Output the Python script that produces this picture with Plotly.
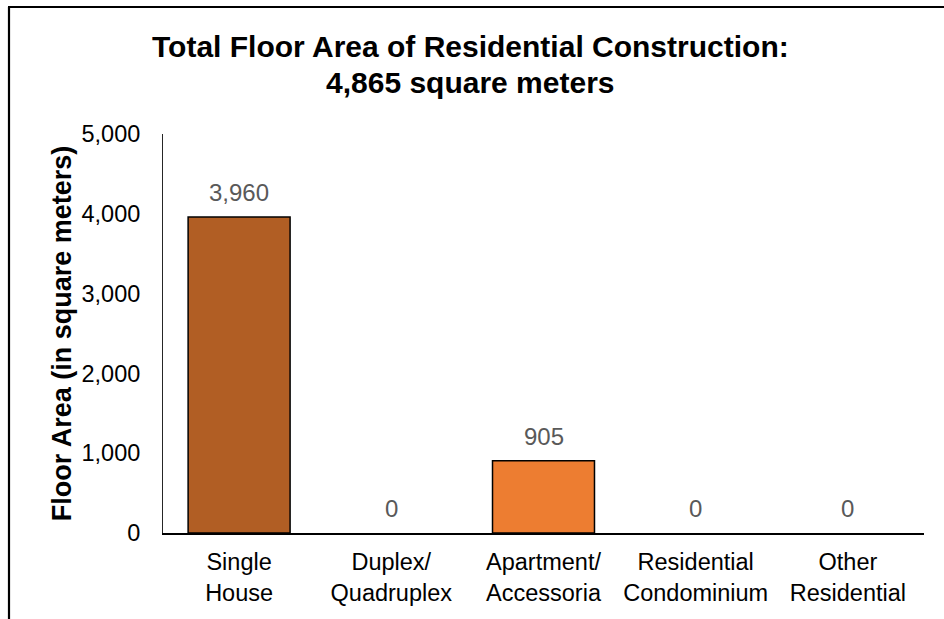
import plotly.graph_objects as go

categories = ["Single<br>House", "Duplex/<br>Quadruplex", "Apartment/<br>Accessoria",
              "Residential<br>Condominium", "Other<br>Residential"]
values = [3960, 0, 905, 0, 0]
bar_colors = ["#B15E24", "#ED7D31", "#ED7D31", "#ED7D31", "#ED7D31"]
title_lines = ["Total Floor Area of Residential Construction:", "4,865 square meters"]
y_title = "Floor Area (in square meters)"
y_ticks = [0, 1000, 2000, 3000, 4000, 5000]

FONT = "Liberation Sans, Arial, sans-serif"

W, H = 944, 619
L, R, T, B = 163, 20, 134, 86
pw, ph = W - L - R, H - T - B


def px(xp):
    return (xp - L) / pw


def py(yp):
    return (H - B - yp) / ph


fig = go.Figure()
fig.add_trace(go.Bar(
    x=categories, y=values,
    marker=dict(color=bar_colors,
                line=dict(color="#000000", width=[1.5 if v > 0 else 0 for v in values])),
    width=0.67,
    hoverinfo="skip",
))

annotations = []
for c, v in zip(categories, values):
    annotations.append(dict(
        x=c, y=v, xref="x", yref="y", text=f"{v:,}", showarrow=False,
        yanchor="bottom", yshift=9,
        font=dict(family=FONT, size=24, color="#595959"),
    ))

for line, yc in zip(title_lines, [46, 83]):
    annotations.append(dict(
        x=px(470), y=py(yc), xref="paper", yref="paper",
        text="<b>" + line + "</b>", showarrow=False,
        xanchor="center", yanchor="middle",
        font=dict(family=FONT, size=30, color="#000000"),
    ))

shapes = [
    dict(type="line", xref="paper", yref="paper", x0=px(9), x1=px(9), y0=py(H + 5), y1=py(7),
         line=dict(color="#000000", width=2.2)),
    dict(type="line", xref="paper", yref="paper", x0=px(8), x1=px(W + 5), y0=py(7), y1=py(7),
         line=dict(color="#000000", width=2.2)),
]

fig.update_layout(
    width=W, height=H,
    margin=dict(l=L, r=R, t=T, b=B, autoexpand=False),
    paper_bgcolor="#FFFFFF", plot_bgcolor="#FFFFFF",
    showlegend=False,
    bargap=0.33,
    font=dict(family=FONT, color="#000000"),
    xaxis=dict(
        showline=True, linecolor="#000000", linewidth=2,
        ticks="", showgrid=False, zeroline=False,
        tickfont=dict(family=FONT, size=23.5, color="#000000"),
        ticklabelstandoff=7,
        automargin=False,
    ),
    yaxis=dict(
        range=[0, 5000], tickvals=y_ticks, ticktext=[f"{t:,}" for t in y_ticks],
        showline=True, linecolor="#262626", linewidth=1,
        ticks="", showgrid=False, zeroline=False,
        tickfont=dict(family=FONT, size=23.5, color="#000000"),
        ticklabelstandoff=17,
        title=dict(text="<b>" + y_title + "</b>", standoff=2,
                   font=dict(family=FONT, size=27, color="#000000")),
        automargin=False,
    ),
    annotations=annotations,
    shapes=shapes,
)

fig.write_html(
    "out.html",
    config={"displayModeBar": False, "staticPlot": True},
    post_script="document.body.style.margin='0';document.body.style.padding='0';",
)
